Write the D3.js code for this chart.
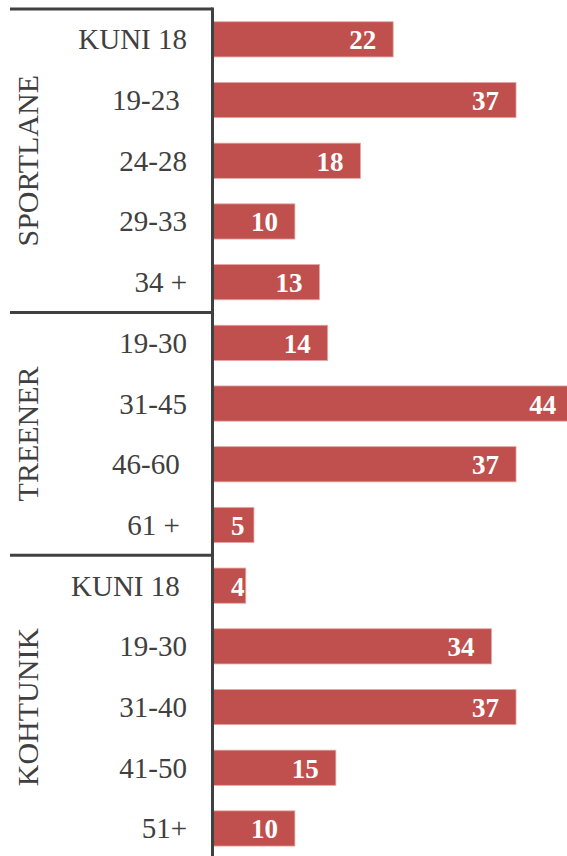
<!DOCTYPE html>
<html>
<head>
<meta charset="utf-8">
<script src="https://cdn.jsdelivr.net/npm/d3@7"></script>
<style>
  html, body { margin: 0; padding: 0; background: #fff; }
  svg { display: block; font-family: "Liberation Serif", "Times New Roman", serif; }
</style>
</head>
<body>
<svg id="chart" width="567" height="856"></svg>
<script>
// chart data
const groups = ["SPORTLANE", "TREENER", "KOHTUNIK"];
const groupSizes = [5, 4, 5];
const categories = ["KUNI 18", "19-23 ", "24-28", "29-33", "34 +",
                    "19-30", "31-45", "46-60 ", "61 + ",
                    "KUNI 18 ", "19-30", "31-40", "41-50", "51+"];
const values = [22, 37, 18, 10, 13, 14, 44, 37, 5, 4, 34, 37, 15, 10];

const svg = d3.select("#chart");
const axisX = 212.5;
const topY = 9;
const step = 60.7;

const rows = categories.map((c, i) => ({ id: i, label: c, value: values[i] }));

const x = d3.scaleLinear().domain([0, 45]).range([213, 213 + 45 * 8.19]);
const y = d3.scaleBand()
    .domain(rows.map(d => d.id))
    .range([topY, topY + step * rows.length])
    .paddingInner(0.42)
    .paddingOuter(0.21);

// bars
svg.append("g")
    .selectAll("rect")
    .data(rows)
    .join("rect")
    .attr("x", x(0))
    .attr("y", d => y(d.id))
    .attr("width", d => x(d.value) - x(0))
    .attr("height", y.bandwidth())
    .attr("fill", "#c0504d")
    .attr("stroke", "#e7a5a3")
    .attr("stroke-width", 0.8);

// value labels (white, inside end)
const vals = svg.append("g")
    .selectAll("text")
    .data(rows)
    .join("text")
    .attr("fill", "#fff")
    .attr("font-weight", "bold")
    .attr("font-size", 27)
    .attr("text-anchor", "end")
    .attr("y", d => y(d.id) + y.bandwidth() / 2 + 10)
    .text(d => d.value);

vals.attr("x", function(d) {
    const w = this.getComputedTextLength();
    return Math.max(x(d.value) - 17, x(0) + 18 + w);
});

// category labels
svg.append("g")
    .selectAll("text")
    .data(rows)
    .join("text")
    .attr("x", 187)
    .attr("y", d => y(d.id) + y.bandwidth() / 2 + 10)
    .attr("text-anchor", "end")
    .attr("font-size", 29)
    .attr("fill", "#404040")
    .style("white-space", "pre")
    .text(d => d.label);

// group labels and separators
let start = 0;
const lineColor = "#404040";
groups.forEach((g, i) => {
    const n = groupSizes[i];
    const y0 = topY + step * start;
    const y1 = topY + step * (start + n);
    svg.append("line")
        .attr("x1", 10).attr("x2", axisX)
        .attr("y1", y0).attr("y2", y0)
        .attr("stroke", lineColor)
        .attr("stroke-width", 3);
    svg.append("text")
        .attr("transform", `translate(38,${(y0 + y1) / 2}) rotate(-90)`)
        .attr("text-anchor", "middle")
        .attr("font-size", 30)
        .attr("fill", "#404040")
        .text(g);
    start += n;
});

// vertical axis
svg.append("line")
    .attr("x1", axisX).attr("x2", axisX)
    .attr("y1", topY - 1.5).attr("y2", 856)
    .attr("stroke", lineColor)
    .attr("stroke-width", 3);
</script>
</body>
</html>
